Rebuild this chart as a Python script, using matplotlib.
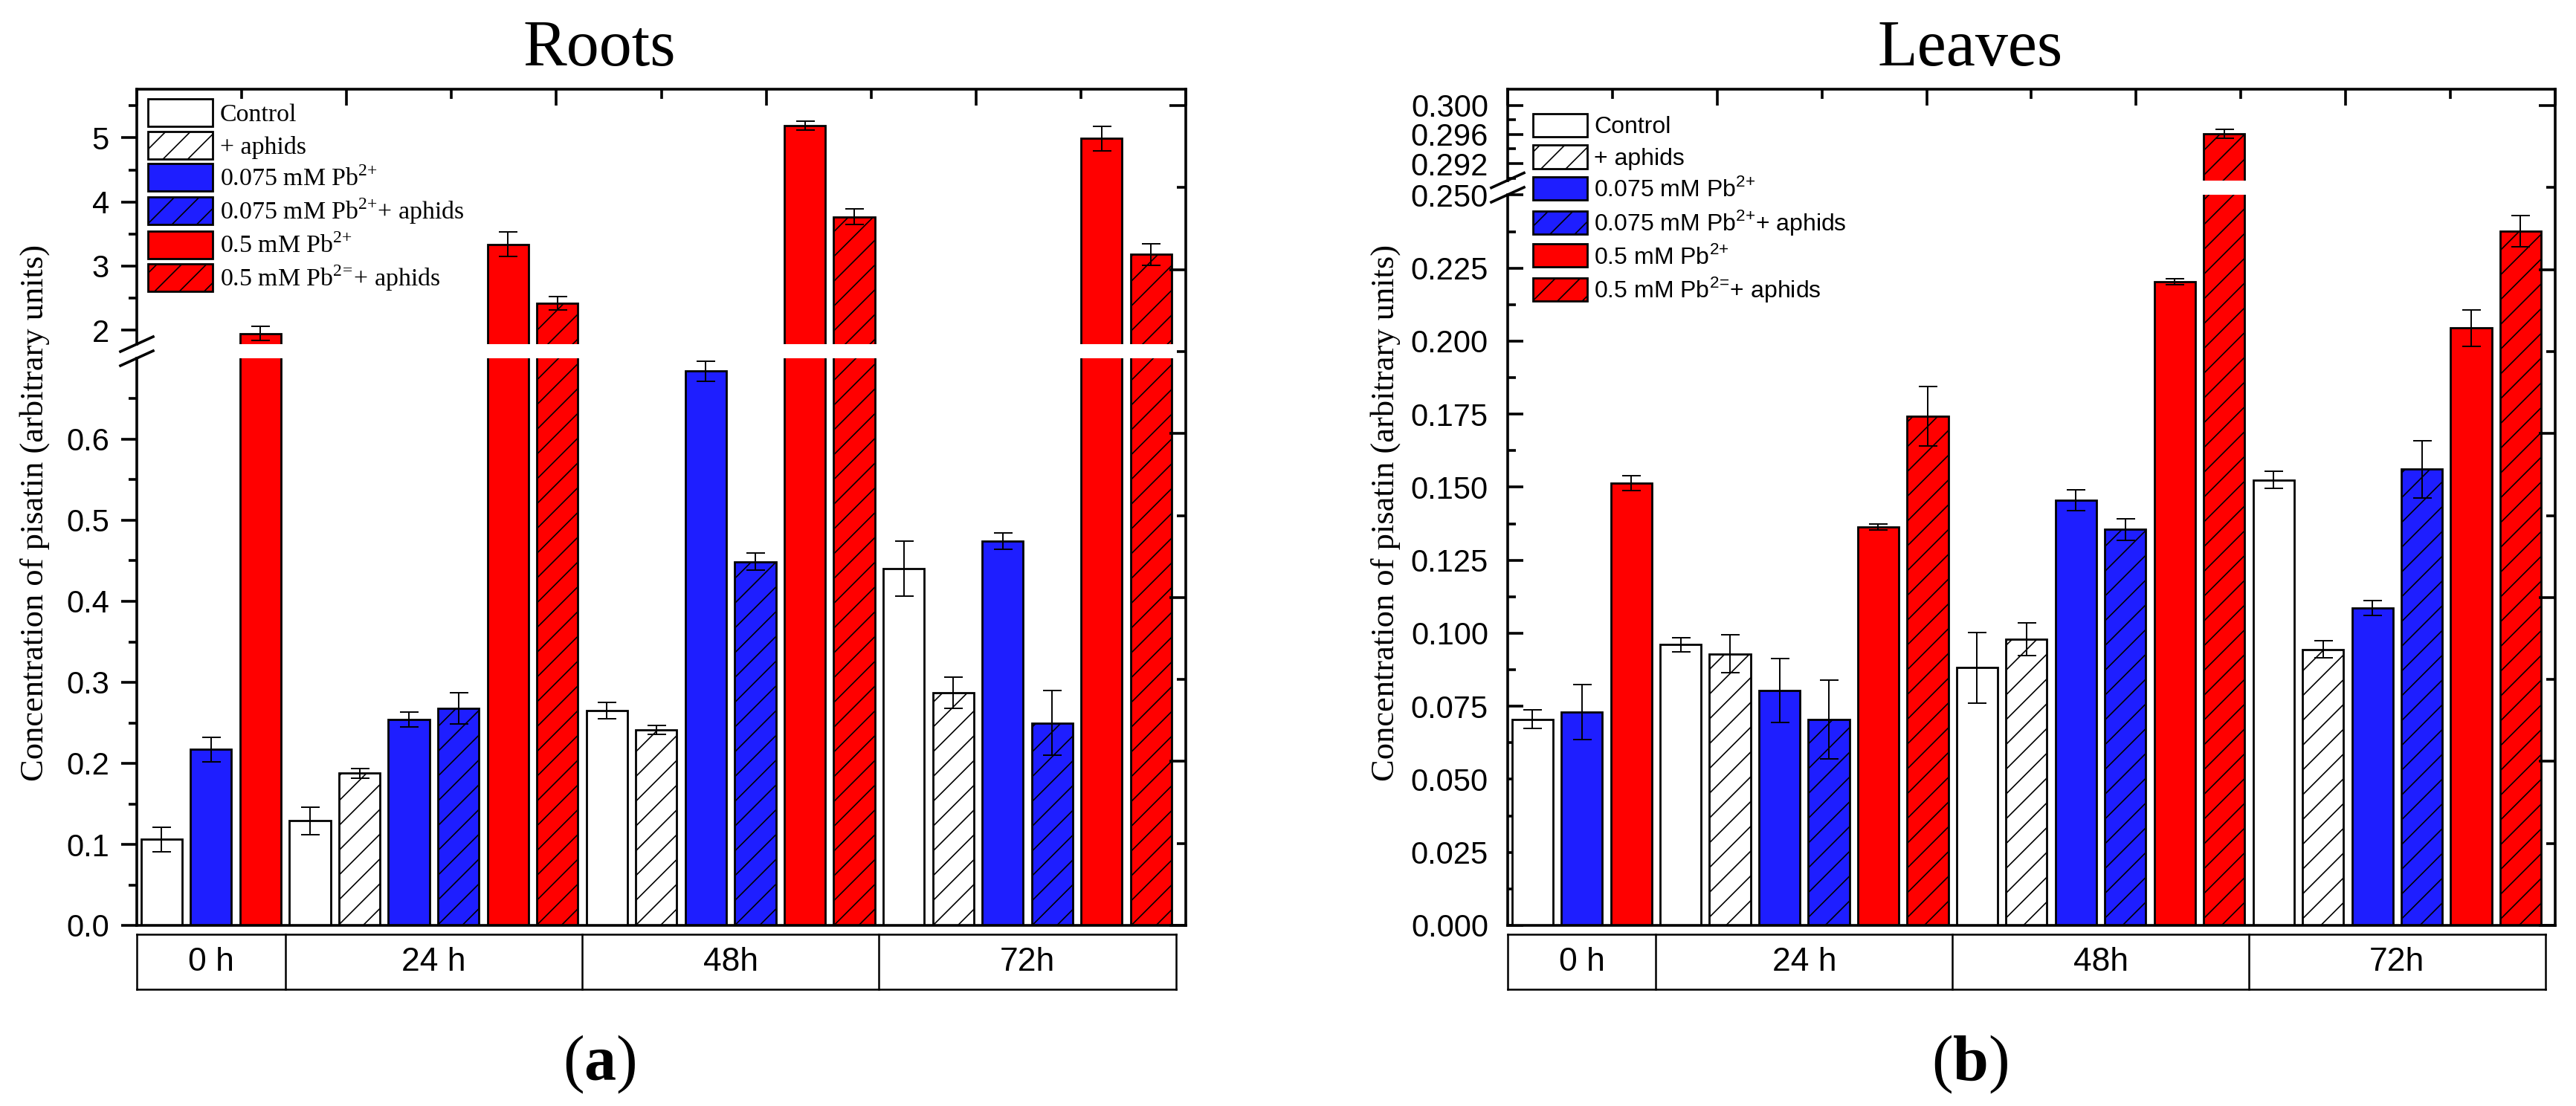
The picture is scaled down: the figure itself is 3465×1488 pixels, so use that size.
import numpy as np
import matplotlib
matplotlib.use('Agg')
import matplotlib.pyplot as plt
import matplotlib.patches as mpatches
from matplotlib.lines import Line2D
from matplotlib.ticker import FixedLocator, MultipleLocator, FormatStrFormatter

# ----------------------------------------------------------------------------
# DATA (read off the figure; None = treatment not measured at that time)
# ----------------------------------------------------------------------------
groups = ['0 h', '24 h', '48h', '72h']
treatments = [
    'Control',
    '+ aphids',
    r'0.075 mM Pb$^{\mathregular{2{+}}}$',
    r'0.075 mM Pb$^{\mathregular{2{+}}}$+ aphids',
    r'0.5 mM Pb$^{\mathregular{2{+}}}$',
    r'0.5 mM Pb$^{\mathregular{2\!=\!}}$+ aphids',
]

# rows = time points, columns = treatments
roots_mean = [
    [0.106, None, 0.217, None, 1.95, None],
    [0.129, 0.188, 0.254, 0.268, 3.34, 2.42],
    [0.265, 0.241, 0.684, 0.449, 5.19, 3.77],
    [0.440, 0.287, 0.474, 0.250, 4.99, 3.18],
]
roots_err = [
    [0.015, None, 0.015, None, 0.106, None],
    [0.017, 0.006, 0.0095, 0.019, 0.19, 0.106],
    [0.010, 0.0055, 0.012, 0.0105, 0.07, 0.126],
    [0.034, 0.019, 0.010, 0.040, 0.19, 0.165],
]

leaves_mean = [
    [0.0705, None, 0.0730, None, 0.1514, None],
    [0.0961, 0.0929, 0.0804, 0.0705, 0.1363, 0.1743],
    [0.0882, 0.0980, 0.1455, 0.1355, 0.2204, 0.2961],
    [0.1525, 0.0945, 0.1086, 0.1561, 0.2045, 0.2377],
]
leaves_err = [
    [0.0032, None, 0.0094, None, 0.0025, None],
    [0.0024, 0.0065, 0.0110, 0.0134, 0.0010, 0.0102],
    [0.0121, 0.0056, 0.0036, 0.0036, 0.0010, 0.0006],
    [0.0030, 0.0030, 0.0026, 0.0097, 0.0062, 0.0054],
]

# ----------------------------------------------------------------------------
# STYLE
# ----------------------------------------------------------------------------
W, H, DPI = 3466, 1488, 200
BLUE = '#1E1EFF'
RED = '#FF0000'
fills = ['white', 'white', BLUE, BLUE, RED, RED]
hatches = [None, '//', None, '//', None, '//']
SERIF = 'Liberation Serif'
SANS = 'Liberation Sans'

plt.rcParams['font.family'] = SANS
plt.rcParams['hatch.linewidth'] = 0.6
plt.rcParams['mathtext.fontset'] = 'custom'
plt.rcParams['mathtext.rm'] = SERIF
plt.rcParams['mathtext.bf'] = SERIF + ':bold'

LW_SPINE = 1.3
LW_BAR = 1.0
XLIM = (-0.5, 20.7)


def fx(px):
    return px / W


def fy(px):
    return 1 - px / H


def layout(means, errs):
    """Assign consecutive x slots to the bars that exist."""
    xs = [[] for _ in treatments]
    ys = [[] for _ in treatments]
    es = [[] for _ in treatments]
    edges = [-0.5]
    pos = 0
    for g in range(len(groups)):
        for t in range(len(treatments)):
            if means[g][t] is None:
                continue
            xs[t].append(pos)
            ys[t].append(means[g][t])
            es[t].append(errs[g][t])
            pos += 1
        edges.append(pos - 0.5)
    return xs, ys, es, edges


def draw_panel(fig, means, errs, cfg):
    left, right, top, bottom = cfg['left'], cfg['right'], 120, 1245
    w = (right - left) / W
    xs, ys, es, edges = layout(means, errs)

    ax_lo = fig.add_axes([fx(left), fy(bottom), w, (bottom - cfg['lo_top']) / H])
    ax_hi = fig.add_axes([fx(left), fy(cfg['hi_bot']), w, (cfg['hi_bot'] - top) / H])

    for ax, ylim in ((ax_lo, cfg['lo_ylim']), (ax_hi, cfg['hi_ylim'])):
        for t in range(len(treatments)):
            ax.bar(xs[t], ys[t], width=0.83, color=fills[t], edgecolor='black',
                   linewidth=LW_BAR, hatch=hatches[t], zorder=2)
            ax.errorbar(xs[t], ys[t], yerr=es[t], fmt='none', ecolor='black',
                        elinewidth=0.7, capsize=4.5, capthick=0.7, zorder=3)
        ax.set_xlim(*XLIM)
        ax.set_ylim(*ylim)
        ax.patch.set_visible(False)
        for s in ('top', 'right', 'bottom'):
            ax.spines[s].set_visible(False)
        ax.spines['left'].set_linewidth(LW_SPINE)
        ax.set_xticks([])
        ax.tick_params(axis='y', which='major', direction=cfg['tickdir'], length=7.6,
                       width=LW_SPINE, labelsize=15, pad=cfg['pad'])
        ax.tick_params(axis='y', which='minor', direction=cfg['tickdir'], length=4,
                       width=LW_SPINE)

    ax_lo.yaxis.set_major_locator(FixedLocator(cfg['lo_major']))
    ax_lo.yaxis.set_minor_locator(FixedLocator(cfg['lo_minor']))
    ax_lo.yaxis.set_major_formatter(FormatStrFormatter(cfg['lo_fmt']))
    ax_hi.yaxis.set_major_locator(FixedLocator(cfg['hi_major']))
    ax_hi.yaxis.set_minor_locator(FixedLocator(cfg['hi_minor']))
    ax_hi.yaxis.set_major_formatter(FormatStrFormatter(cfg['hi_fmt']))

    # outer frame: bottom/top/right lines with their own (unlabelled) ticks
    fr = fig.add_axes([fx(left), fy(bottom), w, (bottom - top) / H])
    fr.patch.set_visible(False)
    fr.spines['left'].set_visible(False)
    for s in ('top', 'right', 'bottom'):
        fr.spines[s].set_linewidth(LW_SPINE)
    fr.set_xlim(0, 10)
    fr.set_ylim(0, (bottom - top) / 110.3)
    fr.xaxis.set_ticks_position('top')
    fr.yaxis.set_ticks_position('right')
    for axis in (fr.xaxis, fr.yaxis):
        axis.set_major_locator(MultipleLocator(2))
        axis.set_minor_locator(MultipleLocator(1))
    fr.tick_params(which='both', direction='in', width=LW_SPINE,
                   labeltop=False, labelright=False, labelbottom=False, labelleft=False)
    fr.tick_params(which='major', length=8)
    fr.tick_params(which='minor', length=4.5)

    # axis-break marks on the left spine
    xc = left
    for yc in (cfg['hi_bot'], cfg['lo_top']):
        fig.add_artist(Line2D([fx(xc - 22), fx(xc + 22)], [fy(yc + 10), fy(yc - 10)],
                              color='black', lw=LW_SPINE))

    # time-point table under the axis
    tb = fig.add_axes([fx(left), fy(1331), w, (1331 - 1257) / H])
    tb.set_xlim(*XLIM)
    tb.set_ylim(0, 1)
    tb.axis('off')
    for yy in (0, 1):
        tb.plot([edges[0], edges[-1]], [yy, yy], color='black', lw=0.9,
                clip_on=False, solid_capstyle='projecting')
    for e in edges:
        tb.plot([e, e], [0, 1], color='black', lw=0.9, clip_on=False)
    for g, name in enumerate(groups):
        tb.text((edges[g] + edges[g + 1]) / 2, 0.5, name, ha='center', va='center',
                fontsize=16, family=SANS)

    # legend
    handles = [mpatches.Patch(facecolor=fills[t], edgecolor='black', hatch=hatches[t],
                              linewidth=LW_BAR) for t in range(len(treatments))]
    lg = cfg['legend']
    fig.legend(handles, treatments, loc='upper left',
               bbox_to_anchor=(fx(lg['x']), fy(lg['y'])), frameon=False,
               borderpad=0, borderaxespad=0, prop={'family': lg['family'], 'size': lg['size']},
               handlelength=lg['hl'], handleheight=lg['hh'], labelspacing=lg['ls'],
               handletextpad=0.3)

    # titles and labels
    cx = cfg['cx']
    fig.text(fx(cx), fy(88), cfg['title'], ha='center', va='baseline',
             fontsize=31.7, family=SERIF)
    fig.text(fx(cx), fy(1432), cfg['tag'], ha='center', va='center',
             fontsize=31, family=SERIF)
    fig.text(fx(cfg['ylab_x']), fy(690), 'Concentration of pisatin (arbitrary units)',
             rotation=90, ha='center', va='center', fontsize=16, family=SERIF)


fig = plt.figure(figsize=(W / DPI, H / DPI), dpi=DPI)

roots_cfg = dict(
    left=184, right=1595, lo_top=482, hi_bot=463,
    lo_ylim=(0, 0.70), hi_ylim=(1.783, 5.758),
    lo_major=[0.0, 0.1, 0.2, 0.3, 0.4, 0.5, 0.6],
    lo_minor=[0.05, 0.15, 0.25, 0.35, 0.45, 0.55, 0.65],
    hi_major=[2, 3, 4, 5], hi_minor=[2.5, 3.5, 4.5, 5.5],
    lo_fmt='%.1f', hi_fmt='%d', tickdir='out', pad=5.8,
    legend=dict(x=199, y=133, family=SERIF, size=12.2, hl=2.56, hh=1.3, ls=0.2),
    cx=806, title='Roots', tag=r'($\mathbf{a}$)', ylab_x=47,
)
leaves_cfg = dict(
    left=2028, right=3437, lo_top=262, hi_bot=242.6,
    lo_ylim=(0, 0.2501), hi_ylim=(0.2897, 0.3022),
    lo_major=list(np.round(np.arange(0, 0.2501, 0.025), 4)),
    lo_minor=list(np.round(np.arange(0.0125, 0.25, 0.025), 4)),
    hi_major=[0.292, 0.296, 0.300], hi_minor=[0.290, 0.294, 0.298],
    lo_fmt='%.3f', hi_fmt='%.3f', tickdir='in', pad=9.4,
    legend=dict(x=2062, y=153, family=SANS, size=11.5, hl=2.28, hh=1.125, ls=0.28),
    cx=2650, title='Leaves', tag=r'($\mathbf{b}$)', ylab_x=1864,
)

draw_panel(fig, roots_mean, roots_err, roots_cfg)
draw_panel(fig, leaves_mean, leaves_err, leaves_cfg)

fig.savefig('out.png', dpi=DPI, facecolor='white')
